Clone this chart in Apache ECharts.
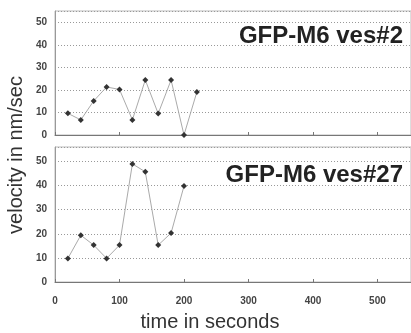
<!DOCTYPE html>
<html>
<head>
<meta charset="utf-8">
<script src="https://cdn.jsdelivr.net/npm/echarts@6/dist/echarts.min.js"></script>
<style>
  html, body { margin: 0; padding: 0; background: #fff; }
  #chart { width: 411px; height: 333px; }
</style>
</head>
<body>
<div id="chart"></div>
<script>
// time points (seconds) and velocities (nm/sec)
const timesVes2 = [20, 40, 60, 80, 100, 120, 140, 160, 180, 200, 220];
const velVes2 = [9.6, 6.7, 15.1, 21.3, 20.2, 6.7, 24.4, 9.5, 24.4, 0, 19.1];
const timesVes27 = [20, 40, 60, 80, 100, 120, 140, 160, 180, 200];
const velVes27 = [9.8, 19.4, 15.3, 9.8, 15.3, 49, 45.7, 15.3, 20.3, 39.8];
const panelTitles = ["GFP-M6 ves#2", "GFP-M6 ves#27"];

const chart = echarts.init(document.getElementById("chart"));

const pairs = (xs, ys) => xs.map((x, i) => [x, ys[i]]);

const labelFont = { fontFamily: "Liberation Sans, Arial, sans-serif", fontWeight: "bold", fontSize: 10, color: "#444" };

function makeX(idx, showLabels) {
  return {
    gridIndex: idx,
    type: "value",
    min: 0, max: 552, interval: 100,
    axisLine: { lineStyle: { color: "#777", width: 1 } },
    axisTick: { show: true, inside: true, length: 3, lineStyle: { color: "#777" } },
    axisLabel: Object.assign({ show: showLabels, margin: 14, showMaxLabel: false }, labelFont),
    splitLine: { show: false },
  };
}

function makeY(idx, max) {
  return {
    gridIndex: idx,
    type: "value",
    min: 0, max: max, interval: 10,
    axisLine: { show: true, lineStyle: { color: "#999" } },
    axisTick: { show: false },
    axisLabel: Object.assign({ margin: 8, showMaxLabel: false }, labelFont),
    splitLine: { show: true, lineStyle: { color: "#999", type: [1, 2], width: 1 } },
  };
}

function makeSeries(idx, data) {
  return {
    type: "line",
    xAxisIndex: idx, yAxisIndex: idx,
    data,
    symbol: "diamond",
    symbolSize: 6,
    itemStyle: { color: "#333" },
    lineStyle: { color: "#aaa", width: 1 },
    animation: false,
  };
}

chart.setOption({
  backgroundColor: "#fff",
  animation: false,
  grid: [
    { left: 55, right: -1, top: 11, height: 124, show: true, borderColor: "#bbb", borderWidth: 1 },
    { left: 55, right: -1, top: 147, height: 135, show: true, borderColor: "#bbb", borderWidth: 1 },
  ],
  xAxis: [makeX(0, false), makeX(1, true)],
  yAxis: [makeY(0, 55), makeY(1, 56)],
  series: [
    makeSeries(0, pairs(timesVes2, velVes2)),
    makeSeries(1, pairs(timesVes27, velVes27)),
  ],
  graphic: [
    {
      type: "text", right: 8, top: 24,
      style: { text: panelTitles[0], font: "bold 24px Liberation Sans, Arial, sans-serif", fill: "#222" },
    },
    {
      type: "text", right: 8, top: 163,
      style: { text: panelTitles[1], font: "bold 24px Liberation Sans, Arial, sans-serif", fill: "#222" },
    },
    {
      type: "text", x: 16, y: 155, rotation: Math.PI / 2,
      style: { text: "velocity in nm/sec", font: "20px Liberation Sans, Arial, sans-serif", fill: "#333", align: "center", verticalAlign: "middle" },
    },
    {
      type: "text", x: 210, y: 322,
      style: { text: "time in seconds", font: "20px Liberation Sans, Arial, sans-serif", fill: "#333", align: "center", verticalAlign: "middle" },
    },
  ],
});
</script>
</body>
</html>
